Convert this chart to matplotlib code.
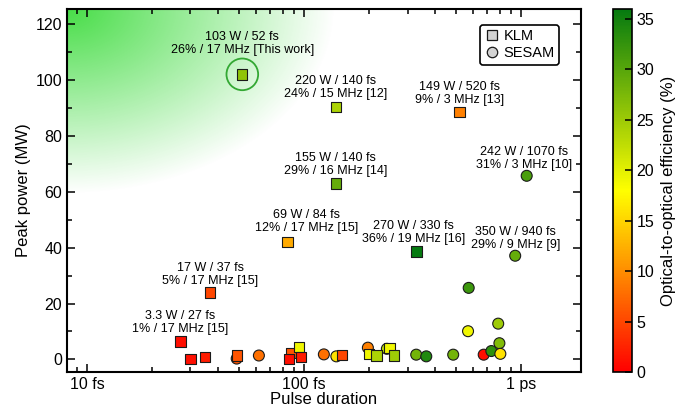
import numpy as np
import matplotlib.pyplot as plt
from matplotlib.colors import LinearSegmentedColormap, Normalize
from matplotlib.lines import Line2D
from matplotlib.ticker import FixedLocator, FixedFormatter, LogLocator, MultipleLocator, NullFormatter

plt.rcParams['font.family'] = ['Liberation Sans', 'DejaVu Sans']

# Kerr-lens mode-locked oscillators: pulse duration (fs), peak power (MW), efficiency (%)
klm_fs = [52, 140, 520, 140, 84, 330, 37, 27, 30, 35, 49, 87, 85.5, 95, 97, 150, 200, 216, 248, 259]
klm_mw = [102, 90.4, 88.6, 62.9, 42.1, 38.6, 23.9, 6.4, 0.25, 0.8, 1.4, 2.3, 0.25, 4.4, 0.8, 1.7, 2.0, 1.4, 4.2, 1.4]
klm_eff = [26, 24, 9, 29, 12, 36, 5, 1, 1, 2, 6, 6, 1, 19, 2, 5, 19, 24, 19, 25]

# SESAM mode-locked oscillators
sesam_fs = [1062, 940, 49, 62, 123.5, 141, 197, 241, 329, 366, 487, 570, 574, 673, 730, 795, 785, 803]
sesam_mw = [65.7, 37.1, 0.3, 1.4, 1.8, 1.1, 4.2, 3.8, 1.7, 1.1, 1.7, 10.1, 25.6, 1.7, 3.0, 5.8, 12.8, 2.0]
sesam_eff = [31, 29, 6, 8, 8, 16, 9, 23, 28, 34, 28, 19, 32, 1, 33, 27, 25, 16]

# annotated results
note_text = [
    "103 W / 52 fs\n26% / 17 MHz [This work]",
    "220 W / 140 fs\n24% / 15 MHz [12]",
    "149 W / 520 fs\n9% / 3 MHz [13]",
    "242 W / 1070 fs\n31% / 3 MHz [10]",
    "155 W / 140 fs\n29% / 16 MHz [14]",
    "69 W / 84 fs\n12% / 17 MHz [15]",
    "270 W / 330 fs\n36% / 19 MHz [16]",
    "350 W / 940 fs\n29% / 9 MHz [9]",
    "17 W / 37 fs\n5% / 17 MHz [15]",
    "3.3 W / 27 fs\n1% / 17 MHz [15]",
]
note_fs = [52, 140, 520, 1062, 140, 84, 330, 940, 37, 27]
note_mw = [102, 90.4, 88.6, 65.7, 62.9, 42.1, 38.6, 37.1, 23.9, 6.4]
note_off = [(0, 31), (0, 19), (0, 18), (-3, 17.5), (0, 19), (19, 20), (-3, 19), (0, 17), (0, 18), (0, 19)]

cmap = LinearSegmentedColormap.from_list('eff', ['#ff0000', '#ffff00', '#057a10'])
norm = Normalize(0, 36)

fig = plt.figure(figsize=(6.75, 4.07), dpi=100)
rect = [0.0993, 0.086, 0.7615, 0.892]

# soft green glow in the upper-left corner
bg = fig.add_axes(rect)
bg.axis('off')
u, v = np.meshgrid(np.linspace(0, 1, 500), np.linspace(0, 1, 360))
r = np.hypot(u / 0.52, v / 0.51)
glow = np.zeros((360, 500, 4))
glow[..., 0] = 0.28
glow[..., 1] = 0.87
glow[..., 2] = 0.28
glow[..., 3] = np.clip(1 - r, 0, 1) ** 1.0
bg.imshow(glow, extent=[0, 1, 0, 1], origin='upper', aspect='auto', interpolation='bilinear')
bg.set_xlim(0, 1)
bg.set_ylim(0, 1)

ax = fig.add_axes(rect)
ax.set_facecolor('none')
ax.set_xscale('log')

ax.scatter(sesam_fs, sesam_mw, c=sesam_eff, cmap=cmap, norm=norm, marker='o', s=62,
           edgecolors='#1a1a1a', linewidths=0.8, zorder=3)
ax.scatter(klm_fs, klm_mw, c=klm_eff, cmap=cmap, norm=norm, marker='s', s=55,
           edgecolors='#1a1a1a', linewidths=0.8, zorder=4)
ax.scatter([52], [102], s=520, facecolors='none', edgecolors='#33a833', linewidths=1.3, zorder=5)

for txt, x, y, (dx, dy) in zip(note_text, note_fs, note_mw, note_off):
    ax.annotate(txt, (x, y), xytext=(dx, dy), textcoords='offset pixels',
                ha='center', va='center', fontsize=9, linespacing=1.15, zorder=6)

ax.set_xlim(8.1, 1890)
ax.set_ylim(-4.5, 125.4)
ax.xaxis.set_major_locator(FixedLocator([10, 100, 1000]))
ax.xaxis.set_major_formatter(FixedFormatter(['10 fs', '100 fs', '1 ps']))
ax.xaxis.set_minor_locator(LogLocator(base=10, subs=np.arange(2, 10)))
ax.xaxis.set_minor_formatter(NullFormatter())
ax.yaxis.set_major_locator(MultipleLocator(20))
ax.yaxis.set_minor_locator(MultipleLocator(10))
ax.tick_params(which='both', direction='in', top=True, right=True, labelsize=11.5, width=1.1)
ax.tick_params(which='major', length=6)
ax.tick_params(which='minor', length=3.5)
for s in ax.spines.values():
    s.set_linewidth(1.5)

ax.set_xlabel('Pulse duration', fontsize=12, labelpad=0)
ax.set_ylabel('Peak power (MW)', fontsize=12, labelpad=3)

handles = [
    Line2D([], [], ls='none', marker='s', ms=7, mfc='#d4d4d4', mec='#1a1a1a', mew=0.9, label='KLM'),
    Line2D([], [], ls='none', marker='o', ms=7.5, mfc='#d4d4d4', mec='#1a1a1a', mew=0.9, label='SESAM'),
]
leg = ax.legend(handles=handles, loc='upper right', bbox_to_anchor=(0.957, 0.956), borderaxespad=0,
                fontsize=10.5, frameon=True, fancybox=True, framealpha=1, edgecolor='black',
                handletextpad=0.3, handlelength=1.0, borderpad=0.3, labelspacing=0.2)
leg.get_frame().set_linewidth(1.2)

cax = fig.add_axes([0.908, 0.086, 0.028, 0.892])
sm = plt.cm.ScalarMappable(cmap=cmap, norm=norm)
cb = fig.colorbar(sm, cax=cax)
cb.set_ticks(range(0, 36, 5))
cb.outline.set_linewidth(1.2)
cax.tick_params(direction='in', length=5, width=1.1, labelsize=11.5)
cb.set_label('Optical-to-optical efficiency (%)', fontsize=12, labelpad=5)

fig.savefig('out.png', dpi=100)
